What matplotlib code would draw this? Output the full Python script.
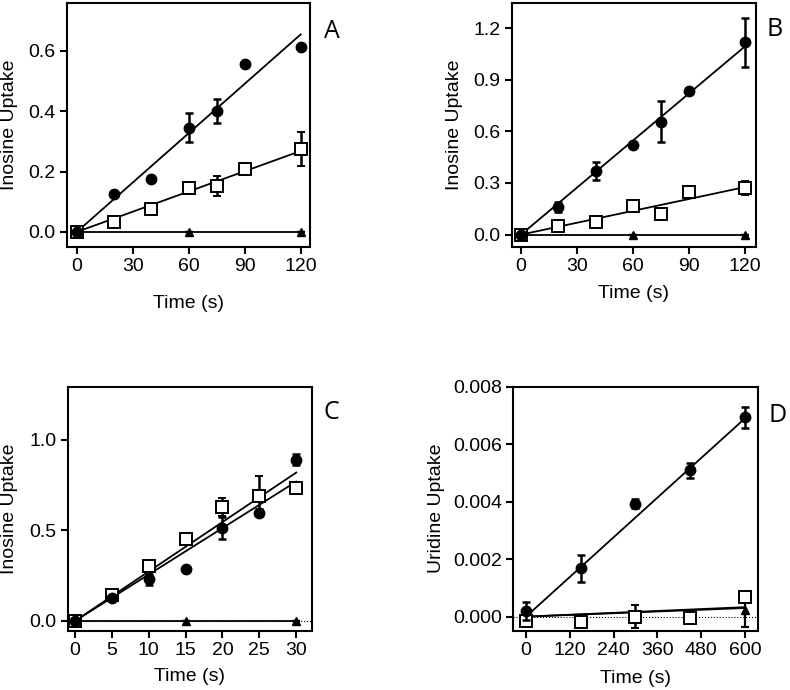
import numpy as np
import matplotlib
matplotlib.use('Agg')
import matplotlib.pyplot as plt

plt.rcParams['font.family'] = ['Liberation Sans', 'DejaVu Sans']
plt.rcParams['font.size'] = 14

# panel A
a_t = [0, 20, 40, 60, 75, 90, 120]
a_circ = [0.0, 0.124, 0.175, 0.345, 0.40, 0.556, 0.613]
a_circ_err = [0, 0, 0, 0.048, 0.04, 0, 0]
a_sq = [0.0, 0.033, 0.075, 0.146, 0.152, 0.207, 0.274]
a_sq_err = [0, 0, 0, 0, 0.032, 0, 0.056]
a_tri_t = [0, 60, 120]
a_tri = [0.0, 0.0, 0.0]
a_fit = [0.654, 0.268, 0.0]   # fitted line value at last time point

# panel B
b_t = [0, 20, 40, 60, 75, 90, 120]
b_circ = [0.0, 0.161, 0.369, 0.52, 0.656, 0.835, 1.116]
b_circ_err = [0, 0.03, 0.05, 0, 0.118, 0, 0.14]
b_sq = [0.0, 0.048, 0.073, 0.165, 0.122, 0.246, 0.271]
b_sq_err = [0, 0, 0, 0, 0, 0, 0.042]
b_tri_t = [0, 60, 120]
b_tri = [0.0, 0.0, 0.0]
b_fit = [1.093, 0.276, 0.0]

# panel C
c_t = [0, 5, 10, 15, 20, 25, 30]
c_circ = [0.0, 0.125, 0.23, 0.287, 0.515, 0.598, 0.89]
c_circ_err = [0, 0, 0.03, 0, 0.06, 0.02, 0.03]
c_sq = [0.0, 0.144, 0.304, 0.451, 0.632, 0.69, 0.737]
c_sq_err = [0, 0, 0.03, 0, 0.05, 0.11, 0.03]
c_tri_t = [0, 15, 30]
c_tri = [0.0, 0.0, 0.0]
c_fit = [0.82, 0.77, 0.0]

# panel D
d_t = [0, 150, 300, 450, 600]
d_circ = [0.0002, 0.00169, 0.00393, 0.00509, 0.00693]
d_circ_err = [0.0003, 0.00047, 0.00015, 0.00027, 0.00035]
d_sq = [-0.00015, -0.00017, 0.0, -0.00004, 0.0007]
d_sq_err = [0, 0, 0.0004, 0, 0.0001]
d_tri_t = [0, 600]
d_tri = [0.0, 0.00023]
d_tri_err = [0, 0.00058]
d_fit = [0.0069, 0.0003, 0.00033]

fig = plt.figure(figsize=(7.9, 6.9), dpi=100)

def style(ax, xl, yl, xlab, ylab):
    for s in ax.spines.values():
        s.set_linewidth(1.5)
    ax.tick_params(direction='out', length=5, width=1.5, labelsize=14, pad=3)
    ax.set_xlabel('Time (s)', fontsize=14, va='center')
    ax.set_ylabel(ylab, fontsize=14, va='center')
    ax.xaxis.set_label_coords(0.5, xl)
    ax.yaxis.set_label_coords(yl, 0.5)

def draw(ax, t, circ, circ_err, sq, sq_err, tri_t, tri, tri_err, fit):
    t_end = t[-1]
    ax.plot([0, t_end], [0, fit[0]], color='black', lw=1.3, zorder=2)
    ax.plot([0, t_end], [0, fit[1]], color='black', lw=1.3, zorder=2)
    ax.plot([0, tri_t[-1]], [0, fit[2]], color='black', lw=1.3, zorder=2)
    ax.errorbar(tri_t, tri, yerr=tri_err, fmt='^', color='black', ms=6,
                capsize=3, elinewidth=1.6, capthick=1.6, zorder=3)
    ax.errorbar(t, sq, yerr=sq_err, fmt='s', mfc='white', mec='black', mew=1.4,
                color='black', ms=8.5, capsize=3, elinewidth=1.8, capthick=1.8, zorder=4)
    ax.errorbar(t, circ, yerr=circ_err, fmt='o', color='black', ms=7.5,
                capsize=3, elinewidth=1.8, capthick=1.8, zorder=5)

# A
ax = fig.add_axes([0.0844, 0.642, 0.308, 0.3536])
draw(ax, a_t, a_circ, a_circ_err, a_sq, a_sq_err, a_tri_t, a_tri, [0] * 3, a_fit)
ax.set_xlim(-5.4, 125)
ax.set_ylim(-0.05, 0.758)
ax.set_xticks([0, 30, 60, 90, 120])
ax.set_yticks([0.0, 0.2, 0.4, 0.6])
ax.set_yticklabels(['0.0', '0.2', '0.4', '0.6'])
style(ax, -0.23, -0.233, 'Time (s)', 'Inosine Uptake')
fig.text(331.7 / 790, 1 - 31.7 / 690, 'A', fontsize=18, family='Open Sans', ha='center', va='center')

# B
ax = fig.add_axes([0.6477, 0.642, 0.3092, 0.3536])
draw(ax, b_t, b_circ, b_circ_err, b_sq, b_sq_err, b_tri_t, b_tri, [0] * 3, b_fit)
ax.set_xlim(-5, 125.9)
ax.set_ylim(-0.072, 1.345)
ax.set_xticks([0, 30, 60, 90, 120])
ax.set_yticks([0.0, 0.3, 0.6, 0.9, 1.2])
ax.set_yticklabels(['0.0', '0.3', '0.6', '0.9', '1.2'])
style(ax, -0.189, -0.235, 'Time (s)', 'Inosine Uptake')
fig.text(775 / 790, 1 - 30 / 690, 'B', fontsize=18, family='Open Sans', ha='center', va='center')

# C
ax = fig.add_axes([0.0857, 0.0859, 0.3089, 0.3536])
ax.axhline(0, color='black', ls=':', lw=0.8, zorder=1)
draw(ax, c_t, c_circ, c_circ_err, c_sq, c_sq_err, c_tri_t, c_tri, [0] * 3, c_fit)
ax.set_xlim(-0.99, 32.1)
ax.set_ylim(-0.054, 1.294)
ax.set_xticks([0, 5, 10, 15, 20, 25, 30])
ax.set_yticks([0.0, 0.5, 1.0])
ax.set_yticklabels(['0.0', '0.5', '1.0'])
style(ax, -0.189, -0.237, 'Time (s)', 'Inosine Uptake')
fig.text(331.7 / 790, 1 - 413 / 690, 'C', fontsize=18, family='Open Sans', ha='center', va='center')

# D
ax = fig.add_axes([0.6497, 0.0859, 0.3094, 0.3536])
ax.axhline(0, color='black', ls=':', lw=0.8, zorder=1)
draw(ax, d_t, d_circ, d_circ_err, d_sq, d_sq_err, d_tri_t, d_tri, d_tri_err, d_fit)
ax.set_xlim(-34.8, 634.8)
ax.set_ylim(-0.00049, 0.008)
ax.set_xticks([0, 120, 240, 360, 480, 600])
ax.set_yticks([0.0, 0.002, 0.004, 0.006, 0.008])
ax.set_yticklabels(['0.000', '0.002', '0.004', '0.006', '0.008'])
style(ax, -0.194, -0.313, 'Time (s)', 'Uridine Uptake')
fig.text(778 / 790, 1 - 415 / 690, 'D', fontsize=18, family='Open Sans', ha='center', va='center')

fig.savefig('out.png', dpi=100)
